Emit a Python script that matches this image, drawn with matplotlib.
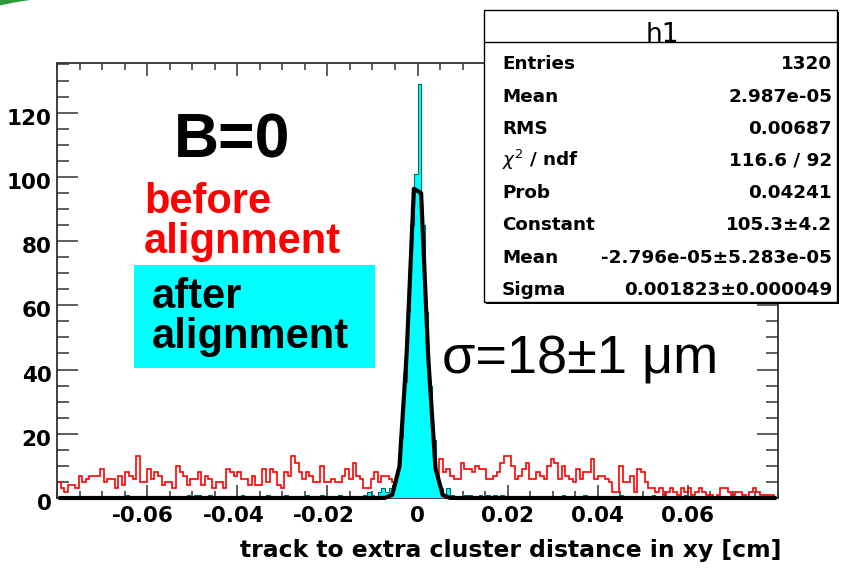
import numpy as np
import matplotlib
matplotlib.use("Agg")
import matplotlib.pyplot as plt
from matplotlib.patches import Rectangle, Polygon
from matplotlib.lines import Line2D
from matplotlib.ticker import FixedLocator, MultipleLocator
import matplotlib.transforms as mtransforms

W, H = 842, 568

# ---------------- data ----------------
x_min, x_max, n_bins = -0.08, 0.08, 200

# "before alignment" histogram (red), 200 bins over [-0.08, 0.08]
red_counts = [
    5, 3, 2, 4, 4, 3, 7, 5, 6, 7, 7, 7, 9, 5, 6, 6, 3, 7, 4, 8,
    7, 6, 13, 5, 5, 9, 6, 8, 7, 4, 5, 5, 3, 10, 8, 7, 4, 6, 6, 8,
    4, 7, 6, 3, 5, 5, 3, 9, 8, 7, 8, 6, 6, 4, 7, 4, 4, 9, 5, 9,
    8, 4, 3, 8, 7, 13, 11, 8, 6, 8, 7, 5, 5, 10, 5, 5, 6, 5, 5, 7,
    9, 6, 11, 7, 6, 3, 3, 6, 8, 5, 7, 7, 6, 5, 6, 4, 5, 6, 5, 4,
    5, 6, 4, 5, 6, 5, 12, 8, 9, 7, 6, 6, 11, 9, 9, 8, 10, 9, 9, 6,
    6, 7, 8, 11, 13, 13, 10, 6, 7, 9, 11, 6, 6, 8, 7, 6, 10, 12, 11, 6,
    10, 7, 6, 5, 9, 6, 8, 8, 12, 6, 7, 7, 6, 5, 2, 2, 10, 5, 5, 7,
    2, 9, 8, 5, 3, 3, 2, 3, 1, 2, 3, 2, 1, 3, 2, 3, 1, 2, 3, 2,
    1, 1, 0, 1, 3, 3, 2, 1, 2, 2, 1, 0, 2, 3, 2, 1, 1, 1, 1, 0,
]

# "after alignment" histogram (cyan): non-empty bins {bin index: count}
cyan_nonzero = {
    19: 1, 36: 1, 38: 1, 39: 1, 42: 1, 51: 1, 58: 1, 63: 1, 69: 1, 73: 1,
    78: 1, 85: 1, 86: 2, 87: 1, 89: 2, 90: 3, 91: 2, 92: 3,
    93: 4, 94: 8, 95: 19, 96: 36, 97: 58, 98: 85, 99: 101, 100: 129,
    101: 85, 102: 58, 103: 35, 104: 18, 105: 7, 106: 3, 107: 1, 108: 3,
    109: 1, 113: 1, 114: 1, 117: 1, 119: 1, 121: 1, 123: 1, 140: 1,
    146: 1, 156: 1, 165: 1, 174: 1,
}

# Gaussian fit (from the stats box)
fit_constant = 105.3
fit_mean = -2.796e-05
fit_sigma = 0.001823
fit_npx = 100

x_ticks = [-0.06, -0.04, -0.02, 0.0, 0.02, 0.04, 0.06]
x_tick_labels = ["-0.06", "-0.04", "-0.02", "0", "0.02", "0.04", "0.06"]
y_ticks = [0, 20, 40, 60, 80, 100, 120]
y_tick_labels = ["0", "20", "40", "60", "80", "100", "120"]
y_max = 135.45

stats_title = "h1"
stats_labels = ["Entries", "Mean", "RMS", r"$\chi^{2}$ / ndf", "Prob",
                "Constant", "Mean", "Sigma"]
stats_values = ["1320", "2.987e-05", "0.00687", "116.6 / 92", "0.04241",
                "105.3\u00b14.2", "-2.796e-05\u00b15.283e-05",
                "0.001823\u00b10.000049"]

x_label = "track to extra cluster distance in xy [cm]"

# ---------------- figure ----------------
fig = plt.figure(figsize=(W / 100, H / 100), dpi=100)
fig.patch.set_facecolor("white")


def fx(x):
    return x / W


def fy(y):
    return 1 - y / H


ax = fig.add_axes([fx(57), fy(498), (778 - 57) / W, (498 - 63) / H])
ax.set_facecolor("white")

edges = np.linspace(x_min, x_max, n_bins + 1)
red = np.array(red_counts, dtype=float)
cyan = np.zeros(n_bins)
for b, c in cyan_nonzero.items():
    cyan[b] = c

ax.stairs(red, edges, color="#ff0000", lw=1.2, zorder=2)
ax.stairs(cyan, edges, fill=True, facecolor="#00ffff", edgecolor="none",
          zorder=3)
ax.stairs(cyan, edges, color="#006868", lw=0.8, zorder=3.5)

dx = (x_max - x_min) / fit_npx
xs = x_min + (np.arange(fit_npx) + 0.5) * dx
ys = fit_constant * np.exp(-0.5 * ((xs - fit_mean) / fit_sigma) ** 2)
ax.plot(xs, ys, color="black", lw=3.0, solid_joinstyle="round", zorder=4,
        clip_on=False)

ax.set_xlim(x_min, x_max)
ax.set_ylim(0, y_max)

ax.xaxis.set_major_locator(FixedLocator(x_ticks))
ax.xaxis.set_minor_locator(MultipleLocator(0.005))
ax.set_xticklabels(x_tick_labels)
ax.yaxis.set_major_locator(FixedLocator(y_ticks))
ax.yaxis.set_minor_locator(MultipleLocator(5))
ax.set_yticklabels(y_tick_labels)

tc = "#333333"
ax.tick_params(axis="x", which="both", direction="in", top=True,
               bottom=True, color=tc, width=1.1)
ax.tick_params(axis="x", which="major", length=9.5, pad=6, labelsize=15.5)
ax.tick_params(axis="x", which="minor", length=4.8)
ax.tick_params(axis="y", which="both", direction="in", left=True,
               right=True, color=tc, width=1.1)
ax.tick_params(axis="y", which="major", length=15, pad=4, labelsize=15.5)
ax.tick_params(axis="y", which="minor", length=8.4)
for lab in ax.get_xticklabels() + ax.get_yticklabels():
    lab.set_fontweight("bold")
    lab.set_family("DejaVu Sans")
off = mtransforms.ScaledTranslation(0, -4 / 100, fig.dpi_scale_trans)
for lab in ax.get_yticklabels():
    lab.set_transform(lab.get_transform() + off)
offx = mtransforms.ScaledTranslation(-4 / 100, 0, fig.dpi_scale_trans)
for lab, txt in zip(ax.get_xticklabels(), x_tick_labels):
    if txt.startswith("-"):
        lab.set_transform(lab.get_transform() + offx)

for sp in ax.spines.values():
    sp.set_color(tc)
    sp.set_linewidth(1.3)

# x-axis title (right aligned, ROOT style)
fig.text(fx(781), fy(557), x_label, ha="right", va="baseline",
         fontsize=16.9, fontweight="bold", family="DejaVu Sans")

# ---------------- annotations ----------------
fig.add_artist(Rectangle((fx(134), fy(368)), (375 - 134) / W,
                         (368 - 265) / H, transform=fig.transFigure,
                         facecolor="#00ffff", edgecolor="none", zorder=2))

big = dict(family="Liberation Sans", fontweight="bold", va="baseline",
           ha="left", zorder=8)
fig.text(fx(174), fy(157), "B=0", fontsize=45, color="black", **big)
fig.text(fx(144), fy(213), "before", fontsize=30, color="#ff0000", **big)
fig.text(fx(144), fy(253), "alignment", fontsize=30, color="#ff0000", **big)
fig.text(fx(152), fy(308), "after", fontsize=30, color="black", **big)
fig.text(fx(152), fy(348), "alignment", fontsize=30, color="black", **big)
fig.text(fx(442), fy(374), "\u03c3=18\u00b11 \u03bcm", fontsize=39,
         family="Liberation Sans", color="black", va="baseline", ha="left",
         zorder=8)

# ---------------- stats box ----------------
bx0, by0, bx1, by1 = 484, 10, 837, 302
fig.add_artist(Rectangle((fx(bx0 + 2), fy(by1 + 2)), (bx1 - bx0) / W,
                         (by1 - by0) / H, transform=fig.transFigure,
                         facecolor="black", edgecolor="none", zorder=5))
fig.add_artist(Rectangle((fx(bx0), fy(by1)), (bx1 - bx0) / W,
                         (by1 - by0) / H, transform=fig.transFigure,
                         facecolor="white", edgecolor="black", lw=1.0,
                         zorder=6))
fig.add_artist(Line2D([fx(bx0), fx(bx1)], [fy(41.5), fy(41.5)],
                      transform=fig.transFigure, color="black", lw=1.0,
                      zorder=7))
fig.text(fx(662), fy(42), stats_title, ha="center", va="baseline",
         fontsize=19, family="DejaVu Sans", zorder=8)
for i, (lab, val) in enumerate(zip(stats_labels, stats_values)):
    yb = 69.3 + i * 32.2
    fig.text(fx(502), fy(yb), lab, ha="left", va="baseline", fontsize=13.2,
             fontweight="bold", family="DejaVu Sans", zorder=8)
    fig.text(fx(832), fy(yb), val, ha="right", va="baseline", fontsize=13.2,
             fontweight="bold", family="DejaVu Sans", zorder=8)

# ---------------- green slide decoration (top-left corner) ----------------
fig.add_artist(Polygon([[fx(0), fy(0)], [fx(30), fy(0)], [fx(14), fy(2.5)],
                        [fx(0), fy(5.5)]], closed=True,
                       transform=fig.transFigure, facecolor="#2e9a3a",
                       edgecolor="none", zorder=9))

fig.savefig("out.png", dpi=100)
